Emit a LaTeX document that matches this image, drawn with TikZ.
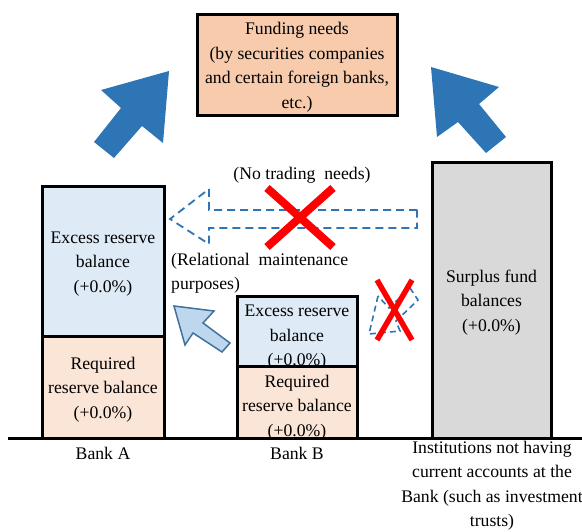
\documentclass[tikz,border=0pt]{standalone}
\usepackage{fontspec}
\setmainfont{Liberation Serif}
\begin{document}
\begin{tikzpicture}[x=1pt,y=-1pt,
  every node/.style={font=\fontsize{17.7}{24.5}\selectfont, inner sep=0pt, align=center},
  box/.style={draw=black, line width=3pt, text depth=0pt},
  bigarrow/.style={fill=arrowblue, draw=none},
  dasharrow/.style={draw=arrowblue, line width=1.8pt, dash pattern=on 8pt off 5pt},
  cross/.style={draw=red, line width=8pt},
  smallcross/.style={draw=red, line width=5.5pt}]
\definecolor{arrowblue}{HTML}{2E75B6}
\definecolor{fundfill}{HTML}{F8CBAD}
\definecolor{excessfill}{HTML}{DEEBF7}
\definecolor{reqfill}{HTML}{FBE5D6}
\definecolor{grayfill}{HTML}{D9D9D9}
\definecolor{lightarrow}{HTML}{BDD7EE}
\definecolor{lightarrowdraw}{HTML}{41719C}
\useasboundingbox (0,0) rectangle (582,532);

% Funding box
\node[box, fill=fundfill, minimum width=200pt, minimum height=101pt] (fund) at (297,65.5)
  {Funding needs\\(by securities companies\\and certain foreign banks,\\etc.)};

% big arrows
\path[bigarrow] (169,71) -- (101,90) -- (121,108) -- (94,142) -- (114,158) -- (142,126) -- (163,143) -- cycle;
\path[bigarrow] (431,67) -- (499,87) -- (479,104) -- (506,137) -- (486,153) -- (458,122) -- (437,137) -- cycle;

% Bank A
\node[box, fill=excessfill, minimum width=122pt, minimum height=150pt] (aex) at (103,262)
  {Excess reserve\\balance\\(+0.0\%)};
\node[box, fill=reqfill, minimum width=122pt, minimum height=101pt] (areq) at (103,387.5)
  {Required\\reserve balance\\(+0.0\%)};

% Bank B
\node[box, fill=excessfill, minimum width=120pt, minimum height=70pt, text height=68pt] (bex) at (297,332)
  {Excess reserve\\balance\\(+0.0\%)};
\node[box, fill=reqfill, minimum width=120pt, minimum height=71pt, text height=67pt] (breq) at (297,402.5)
  {Required\\reserve balance\\(+0.0\%)};

% Surplus
\node[box, fill=grayfill, minimum width=119pt, minimum height=275pt] (surp) at (491.5,300.5)
  {Surplus fund\\balances\\(+0.0\%)};

% axis
\coordinate (axl) at (8,438);
\coordinate (axr) at (582,438);
\draw[line width=3pt] (axl) -- (axr);

% labels
\node (la) at (103,453) {Bank A};
\node (lb) at (297,453) {Bank B};
\node (lc) at (492,485.5) {Institutions not having\\current accounts at the\\Bank (such as investment\\trusts)};

\node (nt) at (302,175) {(No trading\ \ needs)};
\node[anchor=west, align=left] (rm) at (171,273) {(Relational\ \ maintenance\\purposes)};

% dashed big arrow
\draw[dasharrow] (417,210) -- (209,210) -- (209,189) -- (170,219) -- (209,244) -- (209,228) -- (417,228) -- cycle;
\draw[cross] (267,188) -- (333,247);
\draw[cross] (333,188) -- (267,247);

% light arrow
\draw[fill=lightarrow, draw=lightarrowdraw, line width=1.5pt, line join=miter]
  (174,306) -- (214,311) -- (203,323) -- (230,343) -- (222,352) -- (193,333) -- (185,345) -- cycle;

% small dashed arrow
\draw[dasharrow, line width=1.6pt, dash pattern=on 6pt off 4pt]
  (378,296) -- (369,334) -- (400,331) -- (396,321) -- (418,300) -- (410,288) -- (389,308) -- cycle;
\draw[smallcross] (377,280) -- (412,340);
\draw[smallcross] (412,280) -- (377,340);
\end{tikzpicture}
\end{document}
